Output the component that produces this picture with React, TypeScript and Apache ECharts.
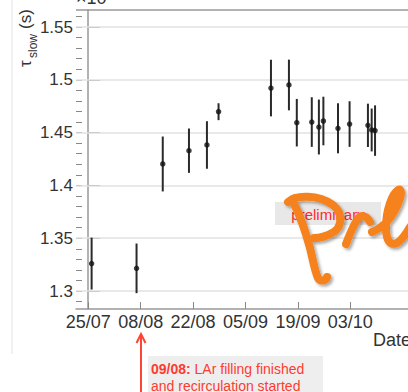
import React, { useEffect, useRef } from "react";
import * as echarts from "echarts";

// x positions are days counted from 25/07
const tickDays = [0, 14, 28, 42, 56, 70];
const tickLabels = ["25/07", "08/08", "22/08", "05/09", "19/09", "03/10"];
const yMajor = [1.3, 1.35, 1.4, 1.45, 1.5, 1.55];
const yMinor = [
  1.29, 1.3, 1.31, 1.32, 1.33, 1.34, 1.35, 1.36, 1.37, 1.38, 1.39, 1.4, 1.41, 1.42,
  1.43, 1.44, 1.45, 1.46, 1.47, 1.48, 1.49, 1.5, 1.51, 1.52, 1.53, 1.54, 1.55, 1.56,
];
const dayOffsets = [0.9, 12.9, 19.9, 26.9, 31.7, 34.8, 48.8, 53.6, 55.7, 59.7, 61.6, 62.8, 66.7, 69.8, 74.7, 75.7, 76.6];
const tauSlow = [1.326, 1.3215, 1.4203, 1.4329, 1.4383, 1.4698, 1.4922, 1.4951, 1.4594, 1.46, 1.4553, 1.461, 1.4541, 1.4581, 1.4569, 1.4525, 1.4519];
const tauErr = [0.0246, 0.0235, 0.026, 0.021, 0.0225, 0.008, 0.0268, 0.024, 0.0225, 0.0235, 0.026, 0.023, 0.0237, 0.0216, 0.0205, 0.0203, 0.0239];

const prePath =
  "M 288 202 C 295 195 318 194 333 205 C 344 214 342 228 332 233 C 325 237 318 238 314 238 " +
  "M 294 204 C 300 215 305 230 310 248 C 313 260 315 272 318 278 C 320 282 326 281 327 277 " +
  "M 346 244 C 349 236 352 228 357 220 C 360 215 366 214 370 222 " +
  "M 372 232 C 382 228 392 218 398 204 C 402 194 402 188 398 190 C 392 194 386 210 386 228 C 386 240 390 246 397 243 C 402 240 406 234 410 227";

let registered = false;

export default function App() {
  const ref = useRef<HTMLDivElement>(null);
  useEffect(() => {
    if (!ref.current) return;
    if (!registered) {
      echarts.graphic.registerShape("preMark", echarts.graphic.extendPath(prePath, {}));
      registered = true;
    }
    const chart = echarts.init(ref.current, undefined, { renderer: "svg" });
    const pts = dayOffsets.map((d, i) => [d, tauSlow[i], tauErr[i]]);
    const font = "Liberation Sans, Arial, sans-serif";
    chart.setOption({
      animation: false,
      textStyle: { fontFamily: font },
      grid: { left: 76, top: 10, right: -20, bottom: 83 },
      xAxis: {
        type: "value",
        min: -3.27,
        max: 85.4,
        axisLine: { show: true, lineStyle: { color: "#999", width: 1.5 } },
        axisTick: { show: true, customValues: tickDays, inside: true, length: 7, lineStyle: { color: "#888", width: 1 } },
        axisLabel: {
          customValues: tickDays,
          formatter: (v: number) => tickLabels[tickDays.indexOf(v)] ?? "",
          fontSize: 18,
          color: "#333",
          margin: 4,
          fontFamily: font,
        },
        splitLine: { show: false },
      },
      yAxis: [
        {
          type: "value",
          min: 1.283,
          max: 1.5661,
          axisLine: { show: true, lineStyle: { color: "#999", width: 1.5 } },
          axisTick: { show: true, customValues: yMajor, inside: true, length: 12, lineStyle: { color: "#888", width: 1 } },
          axisLabel: {
            customValues: yMajor,
            formatter: (v: number) => String(v),
            fontSize: 17,
            color: "#333",
            margin: 3,
            fontFamily: font,
          },
          splitLine: { show: false },
        },
        {
          type: "value",
          position: "left",
          min: 1.283,
          max: 1.5661,
          axisLine: { show: false },
          axisTick: { show: true, customValues: yMinor, inside: true, length: 6, lineStyle: { color: "#888", width: 1 } },
          axisLabel: { show: false },
          splitLine: { show: false },
        },
      ],
      series: [
        {
          type: "custom",
          data: pts,
          encode: { x: 0, y: 1 },
          renderItem: (_p: any, api: any) => {
            const x = api.value(0);
            const y = api.value(1);
            const e = api.value(2);
            const a = api.coord([x, y + e]);
            const b = api.coord([x, y - e]);
            return {
              type: "line",
              shape: { x1: a[0], y1: a[1], x2: b[0], y2: b[1] },
              style: { stroke: "#2a2a2a", lineWidth: 2 },
            };
          },
          z: 3,
        },
        {
          type: "scatter",
          data: pts.map((p) => [p[0], p[1]]),
          symbol: "circle",
          symbolSize: 5.5,
          itemStyle: { color: "#111" },
          z: 4,
          markLine: {
            silent: true,
            symbol: "none",
            label: { show: false },
            lineStyle: { color: "#e2e2e2", width: 1.5, type: "solid" },
            data: yMajor.map((v) => ({ yAxis: v })),
            z: 1,
          },
        },
      ],
      graphic: [
        { type: "line", shape: { x1: 12, y1: 0, x2: 12, y2: 354 }, style: { stroke: "#e4e4e4", lineWidth: 1 } },
        { type: "line", shape: { x1: 76, y1: 10, x2: 408, y2: 10 }, style: { stroke: "#999", lineWidth: 1.5 } },
        {
          type: "text",
          x: 76,
          y: 7,
          style: { text: "×10", fill: "#333", font: "18px " + font, align: "left", verticalAlign: "bottom", textAlign: "left", textVerticalAlign: "bottom" },
        },
        {
          type: "text",
          x: 106,
          y: -1,
          style: { text: "−6", fill: "#333", font: "12px " + font, align: "left", verticalAlign: "bottom", textAlign: "left", textVerticalAlign: "bottom" },
        },
        {
          type: "group",
          x: 25,
          y: 67,
          rotation: Math.PI / 2,
          children: [
            { type: "text", x: 0, y: 0, style: { text: "τ", fill: "#333", font: "17px " + font, align: "left", verticalAlign: "middle", textAlign: "left", textVerticalAlign: "middle" } },
            { type: "text", x: 9, y: 8, style: { text: "slow", fill: "#333", font: "12px " + font, align: "left", verticalAlign: "middle", textAlign: "left", textVerticalAlign: "middle" } },
            { type: "text", x: 38, y: 0, style: { text: "(s)", fill: "#333", font: "17px " + font, align: "left", verticalAlign: "middle", textAlign: "left", textVerticalAlign: "middle" } },
          ],
        },
        {
          type: "text",
          x: 373,
          y: 331,
          style: { text: "Date", fill: "#333", font: "18px " + font, align: "left", verticalAlign: "top", textAlign: "left", textVerticalAlign: "top" },
        },
        { type: "rect", shape: { x: 275, y: 202, width: 106, height: 23 }, style: { fill: "#e8e8e8" } },
        {
          type: "text",
          x: 328,
          y: 214,
          style: { text: "preliminary", fill: "#ff2a2a", font: "15px " + font, align: "center", verticalAlign: "middle", textAlign: "center", textVerticalAlign: "middle" },
        },
        { type: "rect", shape: { x: 148, y: 356, width: 175, height: 40 }, style: { fill: "#eeeeee" } },
        {
          type: "text",
          x: 151,
          y: 360,
          style: {
            text: "{b|09/08:} LAr filling finished\nand recirculation started",
            fill: "#ff3b30",
            font: "14px " + font,
            lineHeight: 17,
            align: "left",
            verticalAlign: "top",
            textAlign: "left",
            textVerticalAlign: "top",
            rich: { b: { fontWeight: "bold", fontSize: 14, fill: "#ff3b30", fontFamily: font, lineHeight: 17 } },
          },
        },
        { type: "line", shape: { x1: 141, y1: 336, x2: 141, y2: 392 }, style: { stroke: "#ff4433", lineWidth: 2 } },
        { type: "polyline", shape: { points: [[136.5, 343], [141, 334], [145.5, 343]] }, style: { stroke: "#ff4433", lineWidth: 2, fill: "none" } },
        {
          type: "preMark",
          x: 0,
          y: 0,
          style: {
            stroke: "#f5821f",
            lineWidth: 8,
            fill: "none",
            lineCap: "round",
            lineJoin: "round",
            shadowBlur: 3,
            shadowColor: "rgba(0,0,0,0.35)",
            shadowOffsetX: 2,
            shadowOffsetY: 2,
          },
          z: 100,
        },
      ],
    });
    return () => chart.dispose();
  }, []);
  return <div ref={ref} style={{ position: "absolute", left: 0, top: 0, width: 408, height: 392 }} />;
}
